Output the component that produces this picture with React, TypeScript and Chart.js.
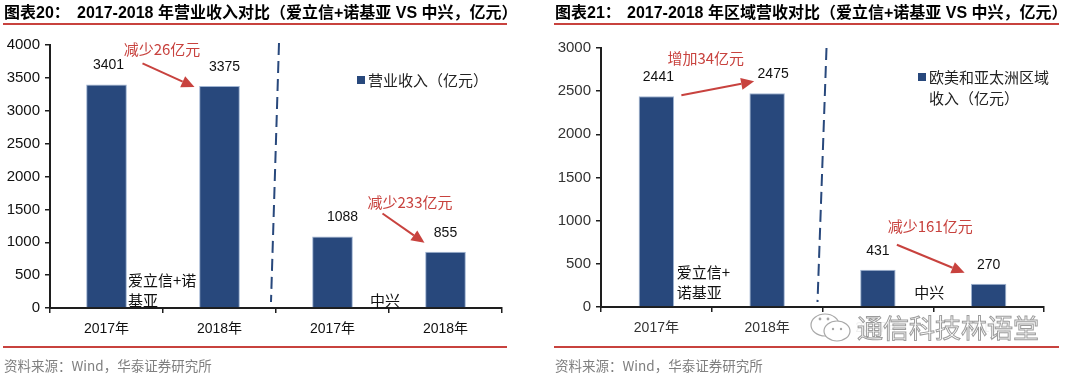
import React, { useEffect, useRef } from "react";
import { Chart, registerables } from "chart.js";

Chart.register(...registerables);

const LATIN = "'Liberation Sans', Arial, 'Noto Sans CJK SC', sans-serif";
const CJK = "'Noto Sans CJK SC', 'Liberation Sans', sans-serif";

// ---------------- data ----------------
const yearCategories = ["2017年", "2018年", "2017年", "2018年"];
const revenueValues = [3401, 3375, 1088, 855];
const regionalValues = [2441, 2475, 431, 270];
const revenueTicks = [0, 500, 1000, 1500, 2000, 2500, 3000, 3500, 4000];
const regionalTicks = [0, 500, 1000, 1500, 2000, 2500, 3000];
const revenueChanges = ["减少26亿元", "减少233亿元"];
const regionalChanges = ["增加34亿元", "减少161亿元"];
const revenueGroupNames = [["爱立信+诺", "基亚"], ["中兴"]];
const regionalGroupNames = [["爱立信+", "诺基亚"], ["中兴"]];
const revenueLegend = ["营业收入（亿元）"];
const regionalLegend = ["欧美和亚太洲区域", "收入（亿元）"];
const titleLeftNo = "图表20：";
const titleLeft = "2017-2018 年营业收入对比（爱立信+诺基亚 VS 中兴，亿元）";
const titleRightNo = "图表21：";
const titleRight = "2017-2018 年区域营收对比（爱立信+诺基亚 VS 中兴，亿元）";
const sourceText = "资料来源：Wind，华泰证券研究所";
const watermarkText = "通信科技林语堂";

// ---------------- styling / layout ----------------
const BAR = "#28487C";
const RED = "#C8423E";
const AXIS = "#1e1e1e";

type Layout = {
  padTop: number;
  padRight: number;
  yWidth: number;
  xHeight: number;
  barPct: number;
  tickColor: string;
  labelDx: number[];
  labelDy: number;
  changes: { pair: [number, number]; tdx: number; tdy: number; from: [number, number]; to: [number, number] }[];
  groups: { boundary: number; dx: number; dys: number[]; align: CanvasTextAlign }[];
  legend: { dx: number; dy: number; lineGap: number };
  sep: { topDx: number; botDx: number; topDy: number; botDy: number };
};

const leftLayout: Layout = {
  padTop: 45,
  padRight: 38,
  yWidth: 50,
  xHeight: 68,
  barPct: 0.36,
  tickColor: "#111",
  labelDx: [2, 5, 10, 0],
  labelDy: -19,
  changes: [
    { pair: [0, 1], tdx: -1, tdy: -35, from: [36, -21], to: [-25, 1] },
    { pair: [2, 3], tdx: 21, tdy: -34, from: [50, -23], to: [-21, -9] },
  ],
  groups: [
    { boundary: 0, dx: -35, dys: [-28, -8], align: "left" },
    { boundary: 2, dx: -4, dys: [-8], align: "center" },
  ],
  legend: { dx: 307, dy: 35, lineGap: 21 },
  sep: { topDx: 3, botDx: -5, topDy: -2, botDy: -6 },
};

const rightLayout: Layout = {
  padTop: 48,
  padRight: 36,
  yWidth: 61,
  xHeight: 69,
  barPct: 0.32,
  tickColor: "#333",
  labelDx: [2, 6, 0, 0],
  labelDy: -19,
  changes: [
    { pair: [0, 1], tdx: -6, tdy: -35, from: [25, -1], to: [-13, -12] },
    { pair: [2, 3], tdx: -3, tdy: -43, from: [19, -25], to: [-24, -11] },
  ],
  groups: [
    { boundary: 0, dx: -35, dys: [-35, -15], align: "left" },
    { boundary: 2, dx: -4, dys: [-15], align: "center" },
  ],
  legend: { dx: 317, dy: 29, lineGap: 21 },
  sep: { topDx: 4, botDx: -5, topDy: 0, botDy: -5 },
};

function drawArrow(ctx: CanvasRenderingContext2D, x1: number, y1: number, x2: number, y2: number) {
  const ang = Math.atan2(y2 - y1, x2 - x1);
  const hl = 13;
  const hw = 6;
  const bx = x2 - hl * Math.cos(ang);
  const by = y2 - hl * Math.sin(ang);
  ctx.strokeStyle = RED;
  ctx.fillStyle = RED;
  ctx.lineWidth = 2;
  ctx.setLineDash([]);
  ctx.beginPath();
  ctx.moveTo(x1, y1);
  ctx.lineTo(bx, by);
  ctx.stroke();
  ctx.beginPath();
  ctx.moveTo(x2, y2);
  ctx.lineTo(bx + hw * Math.sin(ang), by - hw * Math.cos(ang));
  ctx.lineTo(bx - hw * Math.sin(ang), by + hw * Math.cos(ang));
  ctx.closePath();
  ctx.fill();
}

function makeAnnotPlugin(
  layout: Layout,
  values: number[],
  changes: string[],
  groupNames: string[][],
  legend: string[]
) {
  return {
    id: "annot",
    afterDatasetsDraw(chart: any) {
      const ctx: CanvasRenderingContext2D = chart.ctx;
      const ca = chart.chartArea;
      const xs = chart.scales.x;
      const ys = chart.scales.y;
      const bars = values.map((v, i) => ({ x: xs.getPixelForValue(i), y: ys.getPixelForValue(v) }));
      const boundary = (i: number) => (bars[i].x + bars[i + 1].x) / 2;
      ctx.save();

      // dashed separator between the two groups
      const sx = boundary(1);
      ctx.strokeStyle = BAR;
      ctx.lineWidth = 2;
      ctx.setLineDash([12, 6]);
      ctx.beginPath();
      ctx.moveTo(sx + layout.sep.topDx, ca.top + layout.sep.topDy);
      ctx.lineTo(sx + layout.sep.botDx, ca.bottom + layout.sep.botDy);
      ctx.stroke();
      ctx.setLineDash([]);

      // value labels
      ctx.fillStyle = "#111";
      ctx.font = `14px ${LATIN}`;
      ctx.textAlign = "center";
      ctx.textBaseline = "middle";
      values.forEach((v, i) => {
        ctx.fillText(String(v), bars[i].x + layout.labelDx[i], bars[i].y + layout.labelDy);
      });

      // change annotations with arrows
      layout.changes.forEach((c, k) => {
        const a = bars[c.pair[0]];
        const b = bars[c.pair[1]];
        const midX = (a.x + b.x) / 2;
        const topY = Math.min(a.y, b.y);
        ctx.fillStyle = RED;
        ctx.font = `15px ${CJK}`;
        ctx.textAlign = "center";
        ctx.textBaseline = "middle";
        ctx.fillText(changes[k], midX + c.tdx, topY + c.tdy);
        drawArrow(ctx, a.x + c.from[0], a.y + c.from[1], b.x + c.to[0], b.y + c.to[1]);
      });

      // group names
      ctx.fillStyle = "#111";
      ctx.font = `15px ${CJK}`;
      ctx.textBaseline = "middle";
      layout.groups.forEach((g, k) => {
        ctx.textAlign = g.align;
        const gx = boundary(g.boundary) + g.dx;
        groupNames[k].forEach((line, j) => {
          ctx.fillText(line, gx, ca.bottom + g.dys[j]);
        });
      });

      // legend
      const lx = ca.left + layout.legend.dx;
      const ly = ca.top + layout.legend.dy;
      ctx.fillStyle = BAR;
      ctx.fillRect(lx, ly - 4, 8, 8);
      ctx.fillStyle = "#222";
      ctx.font = `15px ${CJK}`;
      ctx.textAlign = "left";
      ctx.textBaseline = "middle";
      legend.forEach((line, j) => {
        ctx.fillText(line, lx + 11, ly + j * layout.legend.lineGap);
      });
      ctx.restore();
    },
  };
}

function BarPanel(props: {
  left: number;
  layout: Layout;
  values: number[];
  ticks: number[];
  changes: string[];
  groupNames: string[][];
  legend: string[];
}) {
  const ref = useRef<HTMLCanvasElement | null>(null);
  useEffect(() => {
    if (!ref.current) return;
    const L = props.layout;
    const chart = new Chart(ref.current, {
      type: "bar",
      data: {
        labels: yearCategories,
        datasets: [
          {
            data: props.values,
            backgroundColor: BAR,
            borderColor: "#9FB4D2",
            borderWidth: 1,
            categoryPercentage: 1,
            barPercentage: L.barPct,
          },
        ],
      },
      options: {
        animation: false,
        responsive: false,
        devicePixelRatio: 1,
        layout: { padding: { top: L.padTop, right: L.padRight, left: 0, bottom: 0 } },
        plugins: { legend: { display: false }, tooltip: { enabled: false } },
        scales: {
          x: {
            offset: true,
            grid: {
              offset: true,
              drawOnChartArea: false,
              drawTicks: true,
              tickLength: 5,
              color: AXIS,
              lineWidth: 1.5,
            },
            border: { display: true, color: AXIS, width: 2 },
            ticks: { color: L.tickColor, font: { size: 14, family: LATIN }, padding: 8, maxRotation: 0 },
            afterFit: (s: any) => {
              s.height = L.xHeight;
            },
          },
          y: {
            min: props.ticks[0],
            max: props.ticks[props.ticks.length - 1],
            afterBuildTicks: (s: any) => {
              s.ticks = props.ticks.map((v) => ({ value: v }));
            },
            grid: {
              drawOnChartArea: false,
              drawTicks: true,
              tickLength: 5,
              color: AXIS,
              lineWidth: 1.5,
            },
            border: { display: true, color: AXIS, width: 2 },
            ticks: {
              color: L.tickColor,
              font: { size: 15, family: LATIN },
              padding: 5,
              callback: (v: any) => String(v),
            },
            afterFit: (s: any) => {
              s.width = L.yWidth;
            },
          },
        },
      },
      plugins: [makeAnnotPlugin(L, props.values, props.changes, props.groupNames, props.legend)],
    } as any);
    return () => chart.destroy();
  }, []);
  return (
    <canvas
      ref={ref}
      width={540}
      height={376}
      style={{ position: "absolute", left: props.left, top: 0, width: 540, height: 376 }}
    />
  );
}

function Header(props: { left: number; no: string; text: string; textLeft: number; lineRight: number }) {
  const common: React.CSSProperties = {
    position: "absolute",
    top: 3,
    lineHeight: "20px",
    fontSize: 16,
    fontWeight: 700,
    fontFamily: LATIN,
    whiteSpace: "nowrap",
    color: "#000",
  };
  return (
    <>
      <div style={{ ...common, left: props.left }}>{props.no}</div>
      <div style={{ ...common, left: props.textLeft }}>{props.text}</div>
      <div
        style={{
          position: "absolute",
          left: props.left - 1,
          top: 23,
          width: props.lineRight - props.left + 1,
          height: 2,
          background: RED,
        }}
      />
    </>
  );
}

function Footer(props: { left: number; lineRight: number }) {
  return (
    <>
      <div
        style={{
          position: "absolute",
          left: props.left - 1,
          top: 346,
          width: props.lineRight - props.left + 1,
          height: 2,
          background: RED,
        }}
      />
      <div
        style={{
          position: "absolute",
          left: props.left,
          top: 357,
          lineHeight: "16px",
          fontSize: 13.5,
          fontFamily: CJK,
          color: "#7f7f7f",
          whiteSpace: "nowrap",
        }}
      >
        {sourceText}
      </div>
    </>
  );
}

export default function App() {
  return (
    <div
      style={{
        position: "absolute",
        left: 0,
        top: 0,
        width: 1080,
        height: 376,
        background: "#fff",
        overflow: "hidden",
      }}
    >
      <BarPanel
        left={0}
        layout={leftLayout}
        values={revenueValues}
        ticks={revenueTicks}
        changes={revenueChanges}
        groupNames={revenueGroupNames}
        legend={revenueLegend}
      />
      <BarPanel
        left={540}
        layout={rightLayout}
        values={regionalValues}
        ticks={regionalTicks}
        changes={regionalChanges}
        groupNames={regionalGroupNames}
        legend={regionalLegend}
      />
      <Header left={4} no={titleLeftNo} text={titleLeft} textLeft={77} lineRight={507} />
      <Header left={555} no={titleRightNo} text={titleRight} textLeft={627} lineRight={1059} />
      <Footer left={4} lineRight={507} />
      <Footer left={555} lineRight={1059} />
      <div
        style={{
          position: "absolute",
          left: 806,
          top: 312,
          width: 238,
          height: 31,
          background: "rgba(255,255,255,0.93)",
        }}
      />
      <svg
        width={46}
        height={32}
        style={{ position: "absolute", left: 808, top: 312 }}
        viewBox="0 0 46 32"
      >
        <ellipse cx={17} cy={13} rx={14} ry={11} fill="none" stroke="#a8a8a8" strokeWidth={1.2} />
        <ellipse cx={29} cy={19} rx={13} ry={10} fill="#fff" stroke="#a8a8a8" strokeWidth={1.2} />
        <circle cx={12} cy={7} r={1.4} fill="#a8a8a8" />
        <circle cx={20} cy={7} r={1.4} fill="#a8a8a8" />
        <circle cx={25} cy={17} r={1.2} fill="#a8a8a8" />
        <circle cx={33} cy={17} r={1.2} fill="#a8a8a8" />
      </svg>
      <div
        style={{
          position: "absolute",
          left: 857,
          top: 312,
          fontSize: 26,
          lineHeight: "30px",
          fontFamily: CJK,
          color: "#ffffff",
          WebkitTextStroke: "1px #9c9c9c",
          whiteSpace: "nowrap",
          letterSpacing: 0,
        } as any}
      >
        {watermarkText}
      </div>
    </div>
  );
}
